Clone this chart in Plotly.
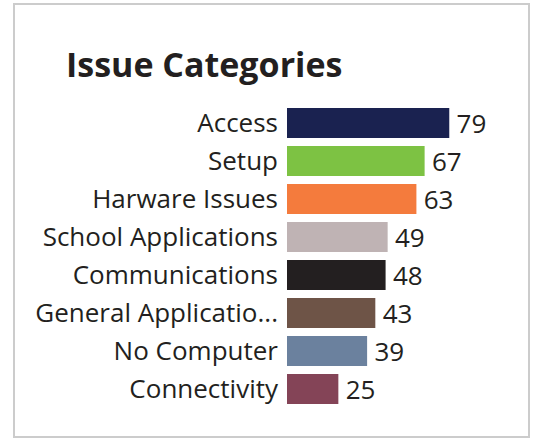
import plotly.graph_objects as go

categories = ["Access", "Setup", "Harware Issues", "School Applications",
              "Communications", "General Applicatio...", "No Computer", "Connectivity"]
counts = [79, 67, 63, 49, 48, 43, 39, 25]
bar_colors = ["#1a2250", "#7dc243", "#f47b3d", "#bfb3b4",
              "#231f20", "#6e5447", "#6b819e", "#844457"]

W, H = 534, 440
L, R, T, B = 287, 19, 104, 32
TEXT = "#231f20"
FONT = "Open Sans"

fig = go.Figure(go.Bar(
    x=counts,
    y=categories,
    orientation="h",
    marker=dict(color=bar_colors, line=dict(width=0)),
    text=["\u2009" + str(v) for v in counts],
    textposition="outside",
    constraintext="none",
    textfont=dict(family=FONT, size=26, color=TEXT),
    cliponaxis=False,
    hoverinfo="skip",
))

plot_w = W - L - R
plot_h = H - T - B

def px_to_paper_x(px):
    return (px - L) / plot_w

def px_to_paper_y(py):
    return (H - B - py) / plot_h

fig.update_layout(
    width=W, height=H,
    margin=dict(l=L, r=R, t=T, b=B),
    paper_bgcolor="white",
    plot_bgcolor="white",
    bargap=0.21,
    showlegend=False,
    font=dict(family=FONT, color=TEXT),
    xaxis=dict(range=[0, 111], visible=False, fixedrange=True),
    yaxis=dict(
        autorange="reversed",
        showgrid=False, zeroline=False, showline=False,
        ticks="", ticklabelstandoff=8,
        tickfont=dict(family=FONT, size=26, color=TEXT),
        fixedrange=True,
    ),
    annotations=[dict(
        text="<b>Issue Categories</b>",
        xref="paper", yref="paper",
        x=px_to_paper_x(64), y=px_to_paper_y(89),
        xanchor="left", yanchor="bottom",
        showarrow=False,
        font=dict(family=FONT, size=34, color=TEXT),
    )],
    shapes=[dict(
        type="rect", xref="paper", yref="paper",
        x0=px_to_paper_x(14), x1=px_to_paper_x(529),
        y0=px_to_paper_y(437), y1=px_to_paper_y(4),
        line=dict(color="#cccccc", width=2),
        fillcolor="rgba(0,0,0,0)",
        layer="below",
    )],
)

fig.write_html("out.html")
